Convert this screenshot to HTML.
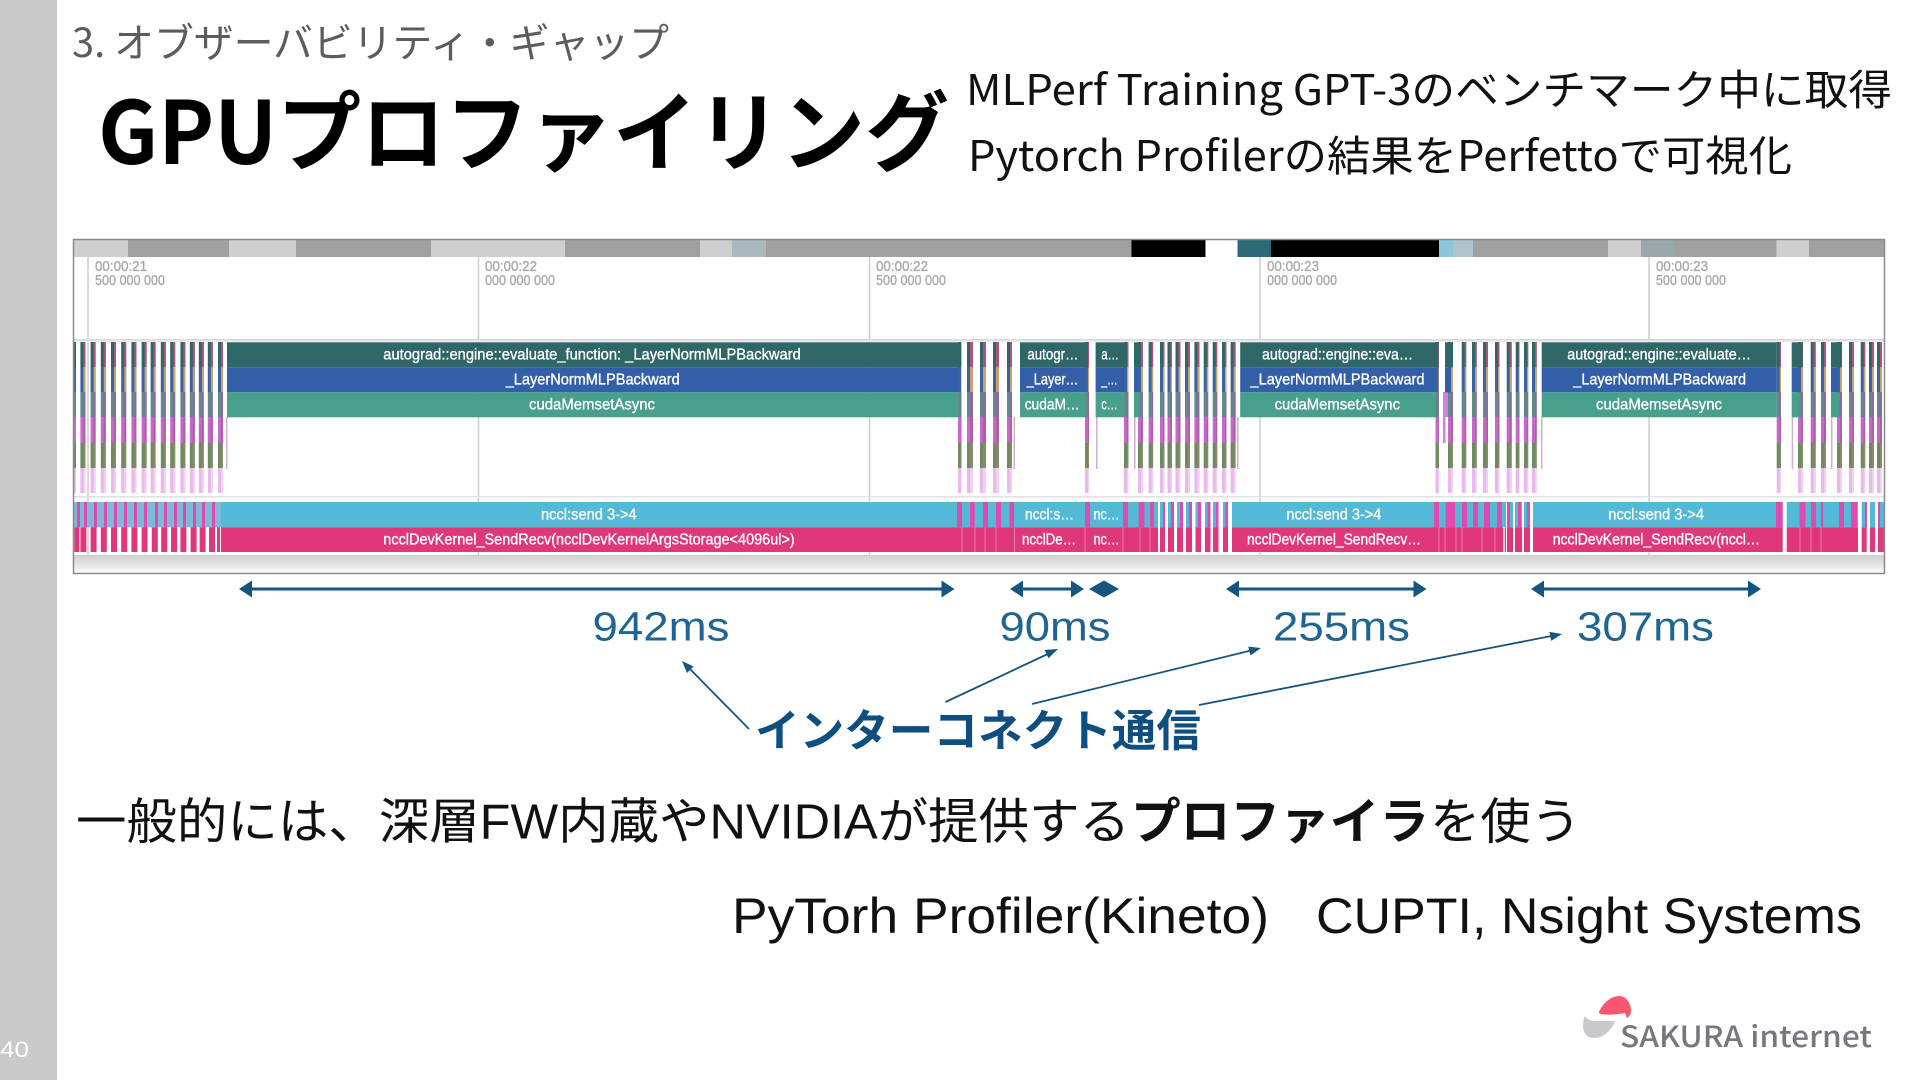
<!DOCTYPE html>
<html lang="ja"><head><meta charset="utf-8"><title>GPUプロファイリング</title>
<style>
html,body{margin:0;padding:0;background:#fff;width:1920px;height:1080px;overflow:hidden}
svg{display:block}
text{font-family:"Liberation Sans","Noto Sans CJK JP",sans-serif}
.cj{font-family:"Noto Sans CJK JP","Liberation Sans",sans-serif}
.l{fill:#fff;font-size:16px;stroke:#fff;stroke-width:.35}
.h{fill:#a9a9a9;font-size:15px;stroke:#a9a9a9;stroke-width:.35}
.m{fill:#1f6594;font-size:41px}
</style></head><body>
<svg width="1920" height="1080" viewBox="0 0 1920 1080" xmlns="http://www.w3.org/2000/svg">
<defs>
<linearGradient id="g1" gradientUnits="userSpaceOnUse" x1="0" y1="342" x2="0" y2="494">
<stop offset="0" stop-color="#2e6766"/><stop offset=".164" stop-color="#2e6766"/>
<stop offset=".164" stop-color="#3a63a0"/><stop offset=".329" stop-color="#3a63a0"/>
<stop offset=".329" stop-color="#5f8a88"/><stop offset=".493" stop-color="#5f8a88"/>
<stop offset=".493" stop-color="#c468cc"/><stop offset=".664" stop-color="#c468cc"/>
<stop offset=".664" stop-color="#6d8a62"/><stop offset=".83" stop-color="#6d8a62"/>
<stop offset=".83" stop-color="#eab8ec"/><stop offset="1" stop-color="#eab8ec"/>
</linearGradient>
<linearGradient id="g2" gradientUnits="userSpaceOnUse" x1="0" y1="342" x2="0" y2="494">
<stop offset="0" stop-color="#b0507c"/><stop offset=".164" stop-color="#b0507c"/>
<stop offset=".164" stop-color="#c9a070"/><stop offset=".329" stop-color="#c9a070"/>
<stop offset=".329" stop-color="#8a6aa0"/><stop offset=".493" stop-color="#8a6aa0"/>
<stop offset=".493" stop-color="#b060a0"/><stop offset=".664" stop-color="#b060a0"/>
<stop offset=".664" stop-color="#8a8a68"/><stop offset=".83" stop-color="#8a8a68"/>
<stop offset=".83" stop-color="#f2d0f2"/><stop offset="1" stop-color="#f2d0f2"/>
</linearGradient>
<linearGradient id="sh" x1="0" y1="0" x2="0" y2="1"><stop offset="0" stop-color="#cfcfcf"/><stop offset="1" stop-color="#fafafa"/></linearGradient>
<linearGradient id="sh2" x1="0" y1="0" x2="0" y2="1"><stop offset="0" stop-color="#d4d4d4"/><stop offset="1" stop-color="#f0f0f0"/></linearGradient>
<path id="s" d="M74 342h2v151h-2zM80.400 342h5v151h-5zM90.600 342h5v151h-5zM100.800 342h5v151h-5zM111 342h5v151h-5zM121.200 342h5v151h-5zM131.400 342h5v151h-5zM141.600 342h5v151h-5zM150.600 342h5v151h-5zM160.800 342h5v151h-5zM170.200 342h5v151h-5zM180.400 342h5v151h-5zM189.800 342h5v151h-5zM198.800 342h5v151h-5zM207.800 342h5v151h-5zM218 342h5v151h-5zM958 342h3.500v151h-3.500zM967 342h6v151h-6zM980 342h6v151h-6zM993 342h6v151h-6zM1007 342h5v151h-5zM1085 342h4v151h-4zM1124 342h4.500v151h-4.500zM1138 342h5v151h-5zM1148.600 342h4.500v151h-4.500zM1160 342h4.500v151h-4.500zM1167.500 342h4.500v151h-4.500zM1175.500 342h5v151h-5zM1185 342h5v151h-5zM1194.400 342h5v151h-5zM1203.700 342h4.500v151h-4.500zM1212.700 342h4.500v151h-4.500zM1222 342h4.500v151h-4.500zM1230.600 342h5v151h-5zM1435.500 342h3.500v151h-3.500zM1448 342h5v151h-5zM1461.700 342h4.500v151h-4.500zM1472 342h4.700v151h-4.700zM1483 342h5v151h-5zM1495 342h4.500v151h-4.500zM1506.700 342h5v151h-5zM1515.700 342h3.800v151h-3.800zM1524 342h4.200v151h-4.200zM1532 342h4.700v151h-4.700zM1776.700 342h4.300v151h-4.300zM1798 342h5v151h-5zM1810.700 342h5v151h-5zM1821 342h5v151h-5zM1837 342h5v151h-5zM1849 342h5v151h-5zM1860.700 342h4.500v151h-4.500zM1869 342h5v151h-5zM1877 342h5v151h-5z"/>
<clipPath id="k"><use href="#s"/></clipPath>
</defs>

<!-- side band -->
<rect x="0" y="0" width="57" height="1080" fill="#cacacb"/>
<text x="0" y="1057" font-size="22" fill="#fff" textLength="29" lengthAdjust="spacingAndGlyphs">40</text>

<!-- headings -->
<text class="cj" x="72" y="57" font-size="40" fill="#5c5c5c" textLength="597" lengthAdjust="spacingAndGlyphs">3. オブザーバビリティ・ギャップ</text>
<text class="cj" x="98" y="164" font-size="87" font-weight="700" fill="#000" textLength="851" lengthAdjust="spacingAndGlyphs">GPUプロファイリング</text>
<text class="cj" x="966" y="105" font-size="42" fill="#111" textLength="926" lengthAdjust="spacingAndGlyphs">MLPerf Training GPT-3のベンチマーク中に取得</text>
<text class="cj" x="968" y="171" font-size="42" fill="#111" textLength="824" lengthAdjust="spacingAndGlyphs">Pytorch Profilerの結果をPerfettoで可視化</text>

<!-- trace frame -->
<rect x="73.500" y="240" width="1811" height="333" fill="#fff"/>
<!-- minimap -->
<g>
<rect x="74" y="240" width="54" height="17" fill="#cfcfcf"/><rect x="128" y="240" width="101" height="17" fill="#a0a0a0"/>
<rect x="229" y="240" width="67" height="17" fill="#cfcfcf"/><rect x="296" y="240" width="135" height="17" fill="#a0a0a0"/>
<rect x="431" y="240" width="134" height="17" fill="#cfcfcf"/><rect x="565" y="240" width="135" height="17" fill="#a0a0a0"/>
<rect x="700" y="240" width="32" height="17" fill="#cfcfcf"/><rect x="732" y="240" width="34" height="17" fill="#a9b9bd"/>
<rect x="766" y="240" width="365.500" height="17" fill="#a0a0a0"/><rect x="1131.500" y="240" width="74" height="17" fill="#000"/>
<rect x="1205.500" y="240" width="32" height="17" fill="#fff"/><rect x="1237.500" y="240" width="33.500" height="17" fill="#2c6a78"/>
<rect x="1271" y="240" width="168" height="17" fill="#000"/><rect x="1439" y="240" width="14" height="17" fill="#8cc6dc"/>
<rect x="1453" y="240" width="20" height="17" fill="#b0c2ca"/><rect x="1473" y="240" width="135" height="17" fill="#a0a0a0"/>
<rect x="1608" y="240" width="33" height="17" fill="#cfcfcf"/><rect x="1641" y="240" width="34" height="17" fill="#9aa8ac"/>
<rect x="1675" y="240" width="101.700" height="17" fill="#a0a0a0"/><rect x="1776.700" y="240" width="32.300" height="17" fill="#cfcfcf"/>
<rect x="1809" y="240" width="75" height="17" fill="#a0a0a0"/>
</g>
<!-- grid -->
<g stroke="#cdcdcd" stroke-width="1.500">
<line x1="88" y1="257" x2="88" y2="573"/><line x1="478.500" y1="257" x2="478.500" y2="573"/>
<line x1="869.500" y1="257" x2="869.500" y2="573"/><line x1="1260" y1="257" x2="1260" y2="573"/>
<line x1="1649" y1="257" x2="1649" y2="573"/>
</g>
<!-- time labels -->
<g class="h">
<text class="h" x="95" y="271" textLength="52" lengthAdjust="spacingAndGlyphs">00:00:21</text><text class="h" x="95" y="285" textLength="70" lengthAdjust="spacingAndGlyphs">500 000 000</text>
<text class="h" x="485" y="271" textLength="52" lengthAdjust="spacingAndGlyphs">00:00:22</text><text class="h" x="485" y="285" textLength="70" lengthAdjust="spacingAndGlyphs">000 000 000</text>
<text class="h" x="876" y="271" textLength="52" lengthAdjust="spacingAndGlyphs">00:00:22</text><text class="h" x="876" y="285" textLength="70" lengthAdjust="spacingAndGlyphs">500 000 000</text>
<text class="h" x="1267" y="271" textLength="52" lengthAdjust="spacingAndGlyphs">00:00:23</text><text class="h" x="1267" y="285" textLength="70" lengthAdjust="spacingAndGlyphs">000 000 000</text>
<text class="h" x="1656" y="271" textLength="52" lengthAdjust="spacingAndGlyphs">00:00:23</text><text class="h" x="1656" y="285" textLength="70" lengthAdjust="spacingAndGlyphs">500 000 000</text>
</g>
<!-- separators & shadows -->
<rect x="74" y="339" width="1810" height="3" fill="url(#sh2)"/>
<rect x="74" y="496" width="1810" height="1.500" fill="#e2e2e2"/>
<rect x="74" y="555" width="1810" height="18" fill="url(#sh)"/>

<!-- upper stripes -->
<use href="#s" fill="url(#g1)"/>
<g clip-path="url(#k)"><use href="#s" x="3" fill="url(#g2)"/></g>
<g fill="#d9a0dc">
<rect x="1443" y="392" width="2.500" height="51" fill="#cf80e0"/><rect x="1445" y="392" width="3" height="25" fill="#cf80e0"/>
<rect x="226" y="417" width="1.500" height="52" fill="#d0b0c8"/><rect x="1013.500" y="417" width="1.500" height="52" fill="#d0b0c8"/>
<rect x="1096" y="417" width="1.500" height="52" fill="#d0b0c8"/><rect x="1134" y="417" width="1.500" height="52" fill="#d0b0c8"/>
<rect x="1237" y="417" width="1.500" height="52" fill="#d0b0c8"/><rect x="1541" y="417" width="1.500" height="52" fill="#d0b0c8"/>
<rect x="1791.700" y="417" width="1.500" height="52" fill="#d0b0c8"/><rect x="1831" y="417" width="1.500" height="52" fill="#d0b0c8"/>
</g>

<!-- upper bars -->
<g>
<rect x="227" y="342.300" width="731" height="25" fill="#2e6766"/><rect x="227" y="367.300" width="731" height="25" fill="#325fa8"/><rect x="227" y="392.300" width="731" height="25" fill="#479f8c"/>
<rect x="1020" y="342.300" width="65" height="25" fill="#2e6766"/><rect x="1020" y="367.300" width="65" height="25" fill="#325fa8"/><rect x="1020" y="392.300" width="65" height="25" fill="#479f8c"/>
<rect x="1095.600" y="342.300" width="28.400" height="25" fill="#2e6766"/><rect x="1095.600" y="367.300" width="28.400" height="25" fill="#325fa8"/><rect x="1095.600" y="392.300" width="28.400" height="25" fill="#479f8c"/>
<rect x="1134" y="342.300" width="5" height="25" fill="#2e6766"/><rect x="1134" y="367.300" width="5" height="25" fill="#325fa8"/><rect x="1134" y="392.300" width="5" height="25" fill="#479f8c"/>
<rect x="1240.200" y="342.300" width="195.300" height="25" fill="#2e6766"/><rect x="1240.200" y="367.300" width="195.300" height="25" fill="#325fa8"/><rect x="1240.200" y="392.300" width="195.300" height="25" fill="#479f8c"/>
<rect x="1445" y="342.300" width="8" height="25" fill="#2e6766"/><rect x="1445" y="367.300" width="6" height="25" fill="#325fa8"/>
<rect x="1541.700" y="342.300" width="235" height="25" fill="#2e6766"/><rect x="1541.700" y="367.300" width="235" height="25" fill="#325fa8"/><rect x="1541.700" y="392.300" width="235" height="25" fill="#479f8c"/>
<rect x="1791.700" y="342.300" width="11" height="25" fill="#2e6766"/><rect x="1791.700" y="367.300" width="8" height="25" fill="#325fa8"/><rect x="1791.700" y="392.300" width="8" height="25" fill="#479f8c"/>
<rect x="1831" y="342.300" width="11" height="25" fill="#2e6766"/><rect x="1831" y="367.300" width="8" height="25" fill="#325fa8"/><rect x="1831" y="392.300" width="8" height="25" fill="#479f8c"/>
</g>

<!-- lower tracks: cyan row -->
<g fill="#52bad6">
<rect x="74" y="502" width="147.500" height="25.300" fill="#7bbad8"/>
<rect x="221" y="502" width="736" height="25.300"/>
<rect x="957" y="502" width="201" height="25.300"/>
<rect x="1160" y="502" width="5" height="25.300"/><rect x="1168" y="502" width="6" height="25.300"/><rect x="1177" y="502" width="6" height="25.300"/><rect x="1186" y="502" width="6" height="25.300"/><rect x="1195.500" y="502" width="5.500" height="25.300"/><rect x="1205" y="502" width="5.500" height="25.300"/><rect x="1213" y="502" width="5.500" height="25.300"/><rect x="1223" y="502" width="5" height="25.300"/>
<rect x="1232" y="502" width="274" height="25.300"/>
<rect x="1507" y="502" width="6" height="25.300"/><rect x="1515" y="502" width="7" height="25.300"/><rect x="1524" y="502" width="6" height="25.300"/>
<rect x="1533" y="502" width="249.700" height="25.300"/>
<rect x="1786.700" y="502" width="71.300" height="25.300"/>
<rect x="1861.700" y="502" width="5" height="25.300"/><rect x="1870" y="502" width="5" height="25.300"/><rect x="1878" y="502" width="6" height="25.300"/>
</g>
<!-- pink row -->
<g fill="#e0367a">
<rect x="221" y="527.300" width="937" height="24.700"/>
<rect x="1160" y="527.300" width="5" height="24.700"/><rect x="1168" y="527.300" width="6" height="24.700"/><rect x="1177" y="527.300" width="6" height="24.700"/><rect x="1186" y="527.300" width="6" height="24.700"/><rect x="1195.500" y="527.300" width="5.500" height="24.700"/><rect x="1205" y="527.300" width="5.500" height="24.700"/><rect x="1213" y="527.300" width="5.500" height="24.700"/><rect x="1223" y="527.300" width="5" height="24.700"/>
<rect x="1232" y="527.300" width="274" height="24.700"/>
<rect x="1507" y="527.300" width="6" height="24.700"/><rect x="1515" y="527.300" width="7" height="24.700"/><rect x="1524" y="527.300" width="6" height="24.700"/>
<rect x="1533" y="527.300" width="249.700" height="24.700"/>
<rect x="1786.700" y="527.300" width="71.300" height="24.700"/>
<rect x="1861.700" y="527.300" width="5" height="24.700"/><rect x="1870" y="527.300" width="5" height="24.700"/><rect x="1878" y="527.300" width="6" height="24.700"/>
<rect x="74.300" y="527.300" width="5" height="24.700"/><rect x="80.400" y="527.300" width="6" height="24.700"/><rect x="90.600" y="527.300" width="6" height="24.700"/><rect x="100.800" y="527.300" width="6" height="24.700"/><rect x="111" y="527.300" width="6" height="24.700"/><rect x="121.200" y="527.300" width="6" height="24.700"/><rect x="131.400" y="527.300" width="6" height="24.700"/><rect x="141.600" y="527.300" width="6" height="24.700"/><rect x="151.800" y="527.300" width="6" height="24.700"/><rect x="161.200" y="527.300" width="6" height="24.700"/><rect x="171" y="527.300" width="6" height="24.700"/><rect x="180.400" y="527.300" width="6" height="24.700"/><rect x="190.600" y="527.300" width="6" height="24.700"/><rect x="199.600" y="527.300" width="6" height="24.700"/><rect x="209" y="527.300" width="6" height="24.700"/><rect x="217" y="527.300" width="3" height="24.700"/>
</g>
<!-- pink stripes inside cyan row -->
<g fill="#e04ab0">
<rect x="77" y="502" width="3" height="25.300"/><rect x="84" y="502" width="3" height="25.300"/><rect x="94" y="502" width="3" height="25.300"/><rect x="104" y="502" width="3" height="25.300"/><rect x="114" y="502" width="3" height="25.300"/><rect x="124" y="502" width="3" height="25.300"/><rect x="134" y="502" width="3" height="25.300"/><rect x="144" y="502" width="3" height="25.300"/><rect x="155" y="502" width="3" height="25.300"/><rect x="164" y="502" width="3" height="25.300"/><rect x="174" y="502" width="3" height="25.300"/><rect x="183" y="502" width="3" height="25.300"/><rect x="193" y="502" width="3" height="25.300"/><rect x="202" y="502" width="3" height="25.300"/><rect x="212" y="502" width="3" height="25.300"/>
<rect x="957" y="502" width="5" height="25.300"/><rect x="970" y="502" width="4.700" height="25.300"/><rect x="983" y="502" width="5" height="25.300"/><rect x="996" y="502" width="5" height="25.300"/><rect x="1009.500" y="502" width="4.500" height="25.300"/><rect x="1085" y="502" width="5" height="25.300"/><rect x="1123" y="502" width="5" height="25.300"/><rect x="1138.600" y="502" width="5.900" height="25.300"/><rect x="1150" y="502" width="4" height="25.300"/>
<rect x="1163" y="502" width="2" height="25.300"/><rect x="1171" y="502" width="3" height="25.300"/><rect x="1180" y="502" width="3" height="25.300"/><rect x="1189" y="502" width="3" height="25.300"/><rect x="1198" y="502" width="3" height="25.300"/><rect x="1207.500" y="502" width="3" height="25.300"/><rect x="1216" y="502" width="2.500" height="25.300"/><rect x="1225.500" y="502" width="2.500" height="25.300"/>
<rect x="1434" y="502" width="5" height="25.300"/><rect x="1445.700" y="502" width="9.300" height="25.300"/><rect x="1462" y="502" width="5" height="25.300"/><rect x="1473" y="502" width="5" height="25.300"/><rect x="1484" y="502" width="6" height="25.300"/><rect x="1497" y="502" width="5" height="25.300"/><rect x="1507" y="502" width="3" height="25.300"/><rect x="1518" y="502" width="3" height="25.300"/><rect x="1527" y="502" width="3" height="25.300"/>
<rect x="1776" y="502" width="6.700" height="25.300"/><rect x="1799.500" y="502" width="6" height="25.300"/><rect x="1811" y="502" width="5" height="25.300"/><rect x="1821" y="502" width="2" height="25.300"/><rect x="1839" y="502" width="5" height="25.300"/><rect x="1851" y="502" width="6" height="25.300"/><rect x="1865" y="502" width="2" height="25.300"/><rect x="1878" y="502" width="2" height="25.300"/>
</g>
<g stroke="#ee7aa6" stroke-width="1">
<line x1="962" y1="527.300" x2="962" y2="552"/><line x1="975" y1="527.300" x2="975" y2="552"/><line x1="985" y1="527.300" x2="985" y2="552"/><line x1="996" y1="527.300" x2="996" y2="552"/><line x1="1014.500" y1="527.300" x2="1014.500" y2="552"/><line x1="1085" y1="527.300" x2="1085" y2="552"/><line x1="1123" y1="527.300" x2="1123" y2="552"/><line x1="1140" y1="527.300" x2="1140" y2="552"/><line x1="1150" y1="527.300" x2="1150" y2="552"/><line x1="1439" y1="527.300" x2="1439" y2="552"/><line x1="1445" y1="527.300" x2="1445" y2="552"/><line x1="1456" y1="527.300" x2="1456" y2="552"/><line x1="1462" y1="527.300" x2="1462" y2="552"/><line x1="1482" y1="527.300" x2="1482" y2="552"/><line x1="1495" y1="527.300" x2="1495" y2="552"/><line x1="1800" y1="527.300" x2="1800" y2="552"/><line x1="1811" y1="527.300" x2="1811" y2="552"/><line x1="1821" y1="527.300" x2="1821" y2="552"/>
</g>
<g stroke="#fff" stroke-width="1.500"><line x1="1504" y1="527" x2="1504" y2="552"/></g>

<!-- frame -->
<rect x="73.500" y="239.500" width="1811" height="334" fill="none" stroke="#8a8a8a" stroke-width="1.500"/>

<!-- bar labels -->
<g transform="translate(0,-0.600)">
<text class="l" x="383.300" y="360" textLength="417.500" lengthAdjust="spacingAndGlyphs">autograd::engine::evaluate_function: _LayerNormMLPBackward</text>
<text class="l" x="505.700" y="385" textLength="174" lengthAdjust="spacingAndGlyphs">_LayerNormMLPBackward</text>
<text class="l" x="529" y="410" textLength="126" lengthAdjust="spacingAndGlyphs">cudaMemsetAsync</text>
<text class="l" x="541" y="520" textLength="95.700" lengthAdjust="spacingAndGlyphs">nccl:send 3-&gt;4</text>
<text class="l" x="383.300" y="545" textLength="411.400" lengthAdjust="spacingAndGlyphs">ncclDevKernel_SendRecv(ncclDevKernelArgsStorage&lt;4096ul&gt;)</text>
<text class="l" x="1027.400" y="360" textLength="51" lengthAdjust="spacingAndGlyphs">autogr…</text>
<text class="l" x="1026.700" y="385" textLength="51.700" lengthAdjust="spacingAndGlyphs">_Layer…</text>
<text class="l" x="1024.700" y="410" textLength="55" lengthAdjust="spacingAndGlyphs">cudaM…</text>
<text class="l" x="1025" y="520" textLength="49" lengthAdjust="spacingAndGlyphs">nccl:s…</text>
<text class="l" x="1022" y="545" textLength="54" lengthAdjust="spacingAndGlyphs">ncclDe…</text>
<text class="l" x="1101.400" y="360" textLength="17.300" lengthAdjust="spacingAndGlyphs">a…</text>
<text class="l" x="1101.400" y="385" textLength="16.200" lengthAdjust="spacingAndGlyphs">_…</text>
<text class="l" x="1101.400" y="410" textLength="16.200" lengthAdjust="spacingAndGlyphs">c…</text>
<text class="l" x="1093.500" y="520" textLength="26" lengthAdjust="spacingAndGlyphs">nc…</text>
<text class="l" x="1093.500" y="545" textLength="26" lengthAdjust="spacingAndGlyphs">nc…</text>
<text class="l" x="1262" y="360" textLength="151" lengthAdjust="spacingAndGlyphs">autograd::engine::eva…</text>
<text class="l" x="1250.500" y="385" textLength="174" lengthAdjust="spacingAndGlyphs">_LayerNormMLPBackward</text>
<text class="l" x="1274.600" y="410" textLength="125.400" lengthAdjust="spacingAndGlyphs">cudaMemsetAsync</text>
<text class="l" x="1286.400" y="520" textLength="95" lengthAdjust="spacingAndGlyphs">nccl:send 3-&gt;4</text>
<text class="l" x="1247" y="545" textLength="174" lengthAdjust="spacingAndGlyphs">ncclDevKernel_SendRecv…</text>
<text class="l" x="1567.300" y="360" textLength="183.700" lengthAdjust="spacingAndGlyphs">autograd::engine::evaluate…</text>
<text class="l" x="1573.300" y="385" textLength="172.700" lengthAdjust="spacingAndGlyphs">_LayerNormMLPBackward</text>
<text class="l" x="1596" y="410" textLength="126" lengthAdjust="spacingAndGlyphs">cudaMemsetAsync</text>
<text class="l" x="1608.300" y="520" textLength="95.700" lengthAdjust="spacingAndGlyphs">nccl:send 3-&gt;4</text>
<text class="l" x="1552.700" y="545" textLength="207.300" lengthAdjust="spacingAndGlyphs">ncclDevKernel_SendRecv(nccl…</text>
</g>

<!-- duration arrows -->
<g stroke="#15557f" stroke-width="3" fill="none">
<line x1="250" y1="589" x2="944" y2="589"/><line x1="1020" y1="589" x2="1074" y2="589"/><line x1="1236" y1="589" x2="1416" y2="589"/><line x1="1541" y1="589" x2="1750" y2="589"/>
</g>
<g fill="#15557f">
<path d="M239 589l13-8.500v17z"/><path d="M954.500 589l-13-8.500v17z"/>
<path d="M1010 589l13-8.500v17z"/><path d="M1084 589l-13-8.500v17z"/>
<path d="M1089 589l15-8.500 15 8.500-15 8.500z"/>
<path d="M1226 589l13-8.500v17z"/><path d="M1426.500 589l-13-8.500v17z"/>
<path d="M1531 589l13-8.500v17z"/><path d="M1761 589l-13-8.500v17z"/>
</g>
<text class="m" x="592.500" y="640.500" textLength="137" lengthAdjust="spacingAndGlyphs">942ms</text>
<text class="m" x="999.500" y="640.500" textLength="111" lengthAdjust="spacingAndGlyphs">90ms</text>
<text class="m" x="1273" y="640.500" textLength="137" lengthAdjust="spacingAndGlyphs">255ms</text>
<text class="m" x="1577" y="640.500" textLength="137" lengthAdjust="spacingAndGlyphs">307ms</text>

<!-- callout arrows -->
<g stroke="#15557f" stroke-width="1.800" fill="none">
<line x1="749" y1="729" x2="687" y2="666"/><line x1="945.500" y1="702" x2="1051" y2="652.500"/>
<line x1="1032" y1="704" x2="1253" y2="650"/><line x1="1199" y1="705" x2="1554" y2="635.500"/>
</g>
<g fill="#15557f">
<path d="M682 661l11.500 5.500-6.500 6.500z"/><path d="M1058 649l-9.500 9.200-3.900-8.300z"/>
<path d="M1261 648l-10.500 7.500-2.200-8.900z"/><path d="M1562 634l-10.800 6.900-1.800-9z"/>
</g>
<text class="cj" x="755" y="746" font-size="44" font-weight="700" fill="#0f4f80" textLength="446" lengthAdjust="spacingAndGlyphs">インターコネクト通信</text>

<!-- body text -->
<text x="76" y="838.500" font-size="49" fill="#111" textLength="1054" lengthAdjust="spacingAndGlyphs">一般的には、深層FW内蔵やNVIDIAが提供する</text>
<text class="cj" x="1131" y="838.500" font-size="49" font-weight="700" fill="#111" textLength="298" lengthAdjust="spacingAndGlyphs">プロファイラ</text>
<text x="1430" y="838.500" font-size="49" fill="#111" textLength="151" lengthAdjust="spacingAndGlyphs">を使う</text>
<text x="732" y="933" font-size="50" fill="#111" textLength="537" lengthAdjust="spacingAndGlyphs">PyTorh Profiler(Kineto)</text>
<text x="1316" y="933" font-size="50" fill="#111" textLength="546" lengthAdjust="spacingAndGlyphs">CUPTI, Nsight Systems</text>

<!-- logo -->
<path d="M1599 1012C1603 1003 1611 996 1619 996C1627 996 1631 1004 1631 1011C1631 1014 1629 1017 1627 1018L1625 1013C1616 1015 1604 1015 1601 1014Q1598 1013 1599 1012Z" fill="#f9566f"/>
<path d="M1585 1016C1587 1019 1590 1021 1596 1021L1613 1021Q1616 1021 1614 1024C1610 1032 1602 1038 1594 1038C1586 1038 1583 1031 1583 1026C1583 1022 1584 1018 1585 1016Z" fill="#c9c9cd"/>
<text class="cj" x="1620" y="1047" font-size="29" font-weight="500" fill="#77777f" textLength="252" lengthAdjust="spacingAndGlyphs">SAKURA internet</text>
</svg>
</body></html>
